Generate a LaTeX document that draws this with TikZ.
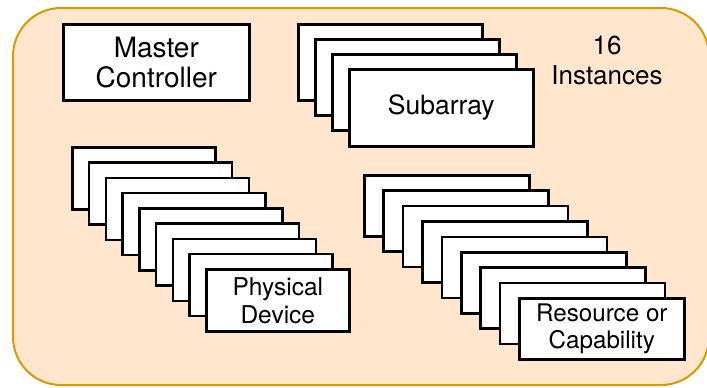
\documentclass[tikz,border=0pt]{standalone}
\usepackage{fontspec}
\setmainfont{TeX Gyre Heros}
\definecolor{peach}{HTML}{FFE6CC}
\definecolor{gold}{HTML}{D79B00}
\begin{document}
\begin{tikzpicture}[x=1pt,y=-1pt,
  card/.style={draw=black, fill=white, line width=2.6pt, inner sep=0pt, anchor=north west,
    align=center, font=\fontsize{26.5}{28}\selectfont},
  label/.style={align=center, font=\fontsize{26}{30}\selectfont}]
\useasboundingbox (0,0) rectangle (707,388);
\draw[gold, fill=peach, line width=2pt, rounded corners=48pt] (13,8) rectangle (709,385);
% Master controller
\node[card, minimum width=186pt, minimum height=76pt, font=\fontsize{28}{30}\selectfont] (mc) at (62,23) {Master\\Controller};
% Subarray stack
\foreach \i in {0,1,2} {
  \node[card, minimum width=184pt, minimum height=76pt] (sa\i) at ({297+17*\i},{23+15*\i}) {};
}
\node[card, minimum width=184pt, minimum height=77pt] (sa3) at (348,68) {Subarray};
\node[label] (inst) at (607,60) {16\\Instances};
% Physical device stack
\foreach \i in {0,...,7} {
  \node[card, minimum width=143pt, minimum height=62pt] (pd\i) at ({71+16.75*\i},{146+15.25*\i}) {};
}
\node[card, minimum width=143pt, minimum height=62pt, font=\fontsize{24.5}{28}\selectfont] (pd8) at (205,268) {Physical\\Device};
% Resource stack
\foreach \i in {0,...,7} {
  \node[card, minimum width=165pt, minimum height=61pt] (rc\i) at ({363+19.4*\i},{174+15.4*\i}) {};
}
\node[card, minimum width=165pt, minimum height=61pt, font=\fontsize{24.2}{27}\selectfont] (rc8) at (518,297) {Resource or\\Capability};
\end{tikzpicture}
\end{document}
